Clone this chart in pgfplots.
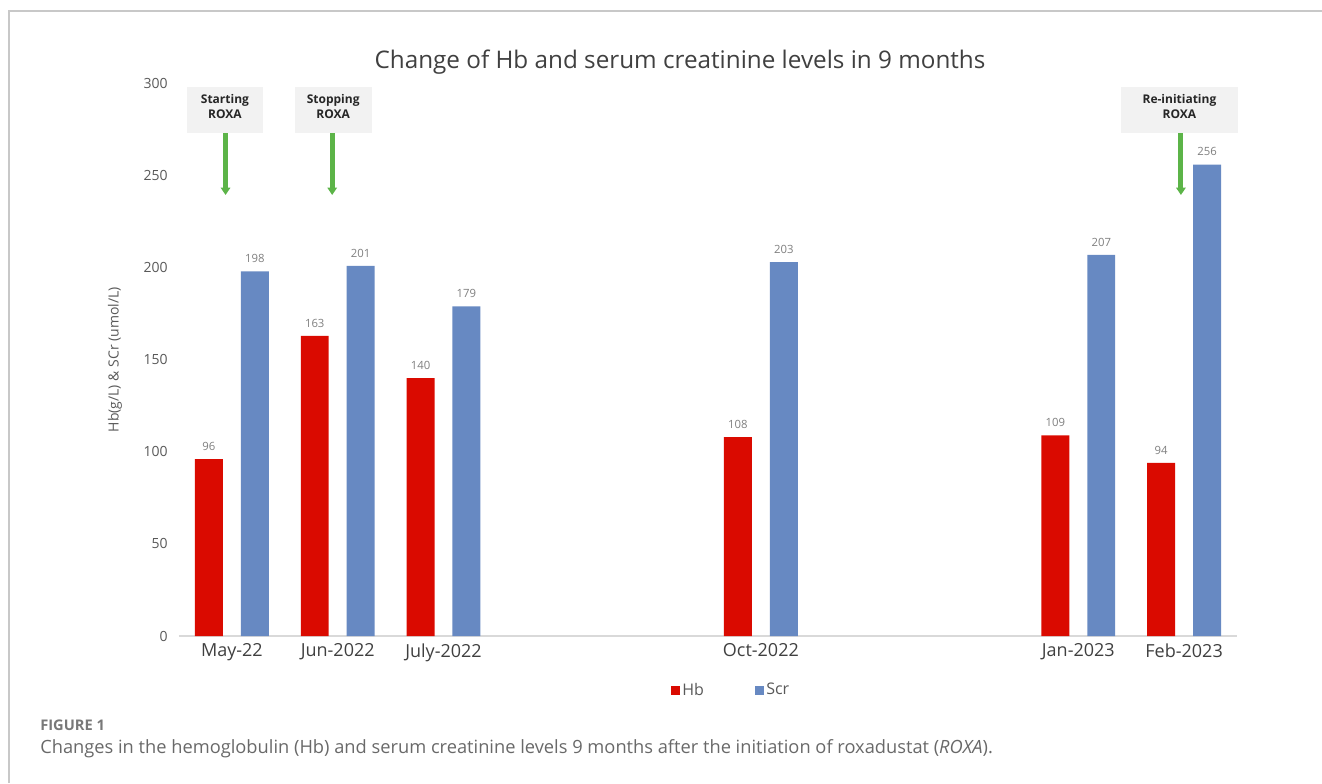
\documentclass[border=0pt]{standalone}
\usepackage{fontspec}
\setmainfont{Open Sans}
\usepackage{pgfplots}
\pgfplotsset{compat=1.18}
\usetikzlibrary{arrows.meta}
\definecolor{hbred}{RGB}{218,10,0}
\definecolor{scrblue}{RGB}{103,137,194}
\definecolor{arrgreen}{RGB}{92,180,72}
\definecolor{boxgray}{RGB}{242,242,242}
\definecolor{bordergray}{RGB}{200,200,200}
\definecolor{axgray}{RGB}{217,217,217}
\definecolor{ticktext}{RGB}{89,89,89}
\definecolor{cattext}{RGB}{64,64,64}
\definecolor{lbltext}{RGB}{127,127,127}
\definecolor{captext}{RGB}{105,105,105}
\begin{document}
\begin{tikzpicture}
\path[use as bounding box] (0,0) rectangle (991.5pt,587.25pt);
\draw[bordergray, line width=0.9pt] (6.75pt,0) -- (6.75pt,579pt) -- (991.5pt,579pt);
\begin{axis}[
  at={(134.25pt,110.25pt)}, anchor=south west,
  scale only axis, width=793.5pt, height=414.3pt,
  xmin=-0.5, xmax=9.5, ymin=0, ymax=300,
  axis x line*=bottom, axis y line*=left,
  y axis line style={draw=none},
  x axis line style={axgray, line width=1pt},
  major tick length=0pt,
  xtick={0,1,2,5,8,9},
  xticklabels={May-22,Jun-2022,July-2022,Oct-2022,Jan-2023,Feb-2023},
  ytick={0,50,100,150,200,250,300},
  /pgf/number format/assume math mode=true,
  xticklabel style={font=\fontsize{13.5}{16}\selectfont, text=cattext, yshift=-2pt},
  yticklabel style={font=\fontsize{10.5}{12}\selectfont, text=ticktext, xshift=-5pt},
  ylabel={Hb(g/L) \& SCr (umol/L)},
  ylabel style={at={(axis description cs:-0.0605,0.5)}, anchor=center, font=\fontsize{10.5}{12}\selectfont, text=ticktext},
  clip=false,
  legend style={at={(axis description cs:0.522,-0.098)}, anchor=center, draw=none, fill=none,
    legend columns=2, font=\fontsize{12}{14}\selectfont, text=ticktext,
    /tikz/every even column/.append style={column sep=36pt},
    /tikz/every odd column/.append style={column sep=0pt},
    cells={anchor=west, inner xsep=2pt}},
  legend image code/.code={\fill[#1] (0pt,-3.4pt) rectangle (6.75pt,3.4pt);},
  nodes near coords,
  every node near coord/.append style={font=\fontsize{8.5}{10}\selectfont, text=lbltext, yshift=3pt},
]
% Hb bars (left of each month), Scr bars (right of each month)
\addplot[ybar, bar width=0.264, bar shift=0, fill=hbred, draw=none]
  coordinates {(-0.217,96) (0.783,163) (1.783,140) (4.783,108) (7.783,109) (8.783,94)};
\addplot[ybar, bar width=0.264, bar shift=0, fill=scrblue, draw=none]
  coordinates {(0.217,198) (1.217,201) (2.217,179) (5.217,203) (8.217,207) (9.217,256)};
\legend{Hb,Scr}
% annotation boxes
\fill[boxgray] (axis cs:-0.428,273) rectangle (axis cs:0.296,298.4);
\fill[boxgray] (axis cs:0.595,273) rectangle (axis cs:1.320,298.4);
\fill[boxgray] (axis cs:8.403,273) rectangle (axis cs:9.509,298.4);
\node[font=\bfseries\fontsize{9}{11}\selectfont, align=center, text=black!85] at (axis cs:-0.066,287.4) {Starting\\ROXA};
\node[font=\bfseries\fontsize{9}{11}\selectfont, align=center, text=black!85] at (axis cs:0.957,287.4) {Stopping\\ROXA};
\node[font=\bfseries\fontsize{9}{11}\selectfont, align=center, text=black!85] at (axis cs:8.956,287.4) {Re-initiating\\ROXA};
\draw[arrgreen, line width=3.75pt, -{Triangle[width=7pt,length=5.5pt]}] (axis cs:-0.06,273) -- (axis cs:-0.06,239.5);
\draw[arrgreen, line width=3.75pt, -{Triangle[width=7pt,length=5.5pt]}] (axis cs:0.948,273) -- (axis cs:0.948,239.5);
\draw[arrgreen, line width=3.75pt, -{Triangle[width=7pt,length=5.5pt]}] (axis cs:8.97,273) -- (axis cs:8.97,239.5);
\end{axis}
\node[font=\fontsize{18.2}{22}\selectfont, text=cattext] at (510pt,540.5pt) {Change of Hb and serum creatinine levels in 9 months};
\node[anchor=west, inner sep=0pt, font=\bfseries\fontsize{11}{13}\selectfont, text=captext!90] at (30pt,43.5pt) {FIGURE 1};
\node[anchor=west, inner sep=0pt, font=\fontsize{13.7}{16}\selectfont, text=captext] at (30pt,25.5pt) {Changes in the hemoglobulin (Hb) and serum creatinine levels 9 months after the initiation of roxadustat (\textit{ROXA}).};
\end{tikzpicture}
\end{document}
